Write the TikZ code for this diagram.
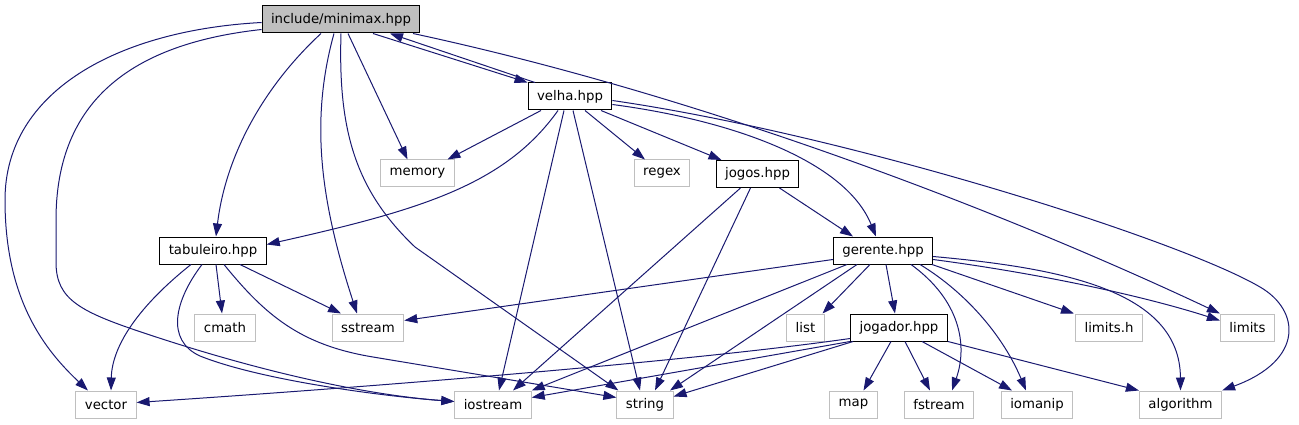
\documentclass[tikz,border=0pt]{standalone}
\usepackage{fontspec}
\setmainfont{DejaVu Sans}
\usetikzlibrary{arrows.meta}
\definecolor{edgeblue}{HTML}{191970}
\definecolor{boxgray}{HTML}{BFBFBF}

\begin{document}
\begin{tikzpicture}[x=1pt, y=-1pt, >={Triangle[length=13pt,width=9pt]},
    every node/.style={font=\fontsize{13.3}{16}\selectfont},
    hdr/.style={draw=black, line width=1pt, fill=white, minimum height=27pt, inner xsep=9pt, inner ysep=0pt},
    sys/.style={hdr, draw=boxgray},
    inc/.style={->, draw=edgeblue, line width=1pt}]
    \useasboundingbox (0,0) rectangle (1299,425);

    % ==== project headers ====
    \node[hdr, fill=boxgray] (minimax) at (341,19.5) {include/minimax.hpp};
    \node[hdr] (velha) at (570,96.5) {velha.hpp};
    \node[hdr] (jogos) at (757.5,174) {jogos.hpp};
    \node[hdr] (tabuleiro) at (213,250.5) {tabuleiro.hpp};
    \node[hdr] (gerente) at (883,250.5) {gerente.hpp};
    \node[hdr] (jogador) at (899,327.5) {jogador.hpp};

    % ==== standard headers ====
    \node[sys] (memory) at (417.5,173.5) {memory};
    \node[sys] (regex) at (662,173.5) {regex};
    \node[sys] (cmath) at (225,327.5) {cmath};
    \node[sys] (sstream) at (368,327.5) {sstream};
    \node[sys] (list) at (805.5,327.5) {list};
    \node[sys] (limitsh) at (1109,327.5) {limits.h};
    \node[sys] (limits) at (1247.5,327.5) {limits};
    \node[sys] (vector) at (106,404.5) {vector};
    \node[sys] (iostream) at (493,404.5) {iostream};
    \node[sys] (string) at (645,404.5) {string};
    \node[sys] (map) at (853.5,404.5) {map};
    \node[sys] (fstream) at (939,404.5) {fstream};
    \node[sys] (iomanip) at (1037,404.5) {iomanip};
    \node[sys] (algorithm) at (1180.5,404.5) {algorithm};

    % ==== minimax.hpp ====
    \draw[inc] ([yshift=-3pt]minimax.west) .. controls (120,30) and (5,90) .. (5,200)
        .. controls (5,300) and (45,350) .. ([xshift=-18pt]vector.north);
    \draw[inc] ([yshift=-10pt]minimax.west) .. controls (120,45) and (56,110) .. (56,220) -- (56,262)
        .. controls (56,300) and (80,312) .. (150,335) .. controls (280,378) and (380,396) .. ([yshift=3pt]iostream.west);
    \draw[inc] ([xshift=-20pt]minimax.south) .. controls (260,90) and (225,160) .. ([xshift=3pt]tabuleiro.north);
    \draw[inc] ([xshift=-7pt]minimax.south) .. controls (310,120) and (320,200) .. ([xshift=-11pt]sstream.north);
    \draw[inc] (minimax.south) .. controls (338,130) and (355,190) .. (415,247) -- ([xshift=2pt]string.north west);
    \draw[inc] ([xshift=7pt]minimax.south) -- ([xshift=-10pt]memory.north);
    \draw[inc] ([xshift=32pt]minimax.south) -- (velha.north west);
    \draw[inc] ([xshift=72pt]minimax.south) .. controls (700,95) and (1000,210) .. (limits.north west);

    % ==== velha.hpp ====
    \draw[inc] ([xshift=-35pt]velha.north) -- ([xshift=49pt]minimax.south);
    \draw[inc] ([xshift=-29pt]velha.south) -- ([xshift=30pt]memory.north);
    \draw[inc] ([xshift=-12pt]velha.south) .. controls (505,185) and (420,210) .. ([yshift=6pt]tabuleiro.east);
    \draw[inc] ([xshift=-6pt]velha.south) -- ([xshift=6pt]iostream.north);
    \draw[inc] ([xshift=3pt]velha.south) -- ([xshift=-5pt]string.north);
    \draw[inc] ([xshift=15pt]velha.south) -- ([xshift=-17pt]regex.north);
    \draw[inc] ([xshift=31pt]velha.south) -- ([xshift=-36pt]jogos.north);
    \draw[inc] ([yshift=-8pt]velha.east) .. controls (730,120) and (845,160) .. ([xshift=-7pt]gerente.north);
    \draw[inc] ([yshift=-4pt]velha.east) .. controls (850,135) and (1180,240) .. (1260,287)
        .. controls (1300,310) and (1305,360) .. (algorithm.north east);

    % ==== jogos.hpp ====
    \draw[inc] ([xshift=-17pt]jogos.south) -- ([xshift=20pt]iostream.north);
    \draw[inc] ([xshift=-7pt]jogos.south) -- ([xshift=10pt]string.north);
    \draw[inc] ([xshift=22pt]jogos.south) -- ([xshift=-30pt]gerente.north);

    % ==== tabuleiro.hpp ====
    \draw[inc] ([xshift=-22pt]tabuleiro.south) .. controls (140,305) and (112,345) .. ([xshift=5pt]vector.north);
    \draw[inc] ([xshift=-11pt]tabuleiro.south) .. controls (175,300) and (165,340) .. (200,356)
        .. controls (260,380) and (380,396) .. ([yshift=3pt]iostream.west);
    \draw[inc] ([xshift=3pt]tabuleiro.south) -- ([xshift=-3pt]cmath.north);
    \draw[inc] ([xshift=11pt]tabuleiro.south) .. controls (265,315) and (300,345) .. (373,357) -- ([yshift=7pt]string.west);
    \draw[inc] ([xshift=27pt]tabuleiro.south) -- ([xshift=-27pt]sstream.north);

    % ==== gerente.hpp ====
    \draw[inc] ([yshift=-9pt]gerente.west) -- ([yshift=7pt]sstream.east);
    \draw[inc] ([xshift=-36pt]gerente.south) -- (iostream.north east);
    \draw[inc] ([xshift=-26pt]gerente.south) -- ([xshift=25pt]string.north);
    \draw[inc] ([xshift=-13pt]gerente.south) -- ([xshift=17pt]list.north);
    \draw[inc] ([xshift=3pt]gerente.south) -- ([xshift=-4pt]jogador.north);
    \draw[inc] ([xshift=28pt]gerente.south) .. controls (960,300) and (968,345) .. ([xshift=13pt]fstream.north);
    \draw[inc] ([xshift=37pt]gerente.south) .. controls (970,295) and (1005,340) .. ([xshift=-11pt]iomanip.north);
    \draw[inc] ([xshift=49pt]gerente.south) -- ([xshift=-35pt]limitsh.north);
    \draw[inc] ([yshift=-9pt]gerente.east) .. controls (1050,275) and (1150,298) .. ([yshift=7pt]limits.west);
    \draw[inc] ([yshift=-6pt]gerente.east) .. controls (1060,268) and (1180,290) .. (algorithm.north);

    % ==== jogador.hpp ====
    \draw[inc] ([yshift=-11pt]jogador.west) .. controls (700,360) and (400,385) .. ([yshift=2pt]vector.east);
    \draw[inc] (jogador.south west) -- ([yshift=7pt]iostream.east);
    \draw[inc] ([xshift=3pt]jogador.south west) -- ([yshift=8pt]string.east);
    \draw[inc] ([xshift=-8pt]jogador.south) -- ([xshift=10pt]map.north);
    \draw[inc] ([xshift=6pt]jogador.south) -- ([xshift=-9pt]fstream.north);
    \draw[inc] ([xshift=23pt]jogador.south) -- ([xshift=-25pt]iomanip.north);
    \draw[inc] (jogador.south east) -- (algorithm.north west);
\end{tikzpicture}
\end{document}
